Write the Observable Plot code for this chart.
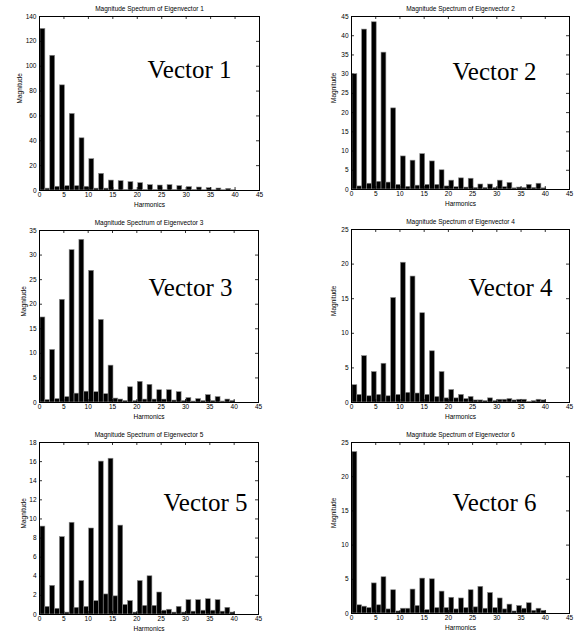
<!DOCTYPE html>
<html><head><meta charset="utf-8">
<script src="https://cdn.jsdelivr.net/npm/d3@7"></script>
<script src="https://cdn.jsdelivr.net/npm/@observablehq/plot@0.6"></script>
<style>
html,body{margin:0;padding:0;background:#fff;}
#wrap{position:relative;width:575px;height:631px;overflow:hidden;background:#fff;}
#wrap svg{position:absolute;overflow:visible;}
</style></head><body><div id="wrap"></div>
<script>
const harmonics = [1,2,3,4,5,6,7,8,9,10,11,12,13,14,15,16,17,18,19,20,21,22,23,24,25,26,27,28,29,30,31,32,33,34,35,36,37,38,39,40];

const vector1 = [130,1.5,108.4,3,84.6,3.5,61.6,3.5,42,3,25.2,1.5,13.4,1.5,8,0.5,7.5,0.5,6.7,0.5,5.9,0.3,4.3,0.3,4,0.3,4.3,0.3,3.5,0.3,2.7,0.3,2.4,0.2,1.9,0.2,1.6,0.2,1.3,0.2];
const vector2 = [30,0.8,41.6,1.5,43.5,2,35.6,1.8,21.1,1.2,8.6,0.7,7.5,1,9.2,1.2,7.3,1.2,5,0.8,2.3,0.6,2.9,0.5,2.8,0.4,1.3,0.4,1.3,0.4,2.3,0.6,1.7,0.3,0.5,0.4,1.2,0.4,1.5,0.3];
const vector3 = [17.3,0.5,10.7,0.7,20.9,1.1,31,1.8,33.1,2.2,26.8,2.1,16.8,1.7,7.5,0.8,0.6,0.3,3.1,0.3,4.2,0.6,3.6,0.6,2.5,0.6,2.5,0.4,2.1,0.3,0.9,0.2,0.7,0.3,1.5,0.3,1.1,0.2,0.6,0.3];
const vector4 = [2.5,1.1,6.7,0.9,4.4,1.1,5.6,0.9,15.1,1.1,20.2,1.4,18.2,1.3,12.9,1.1,7.4,0.8,4.4,0.6,1.8,0.6,1.1,0.5,0.8,0.3,0.3,0.2,0.6,0.2,0.4,0.4,0.5,0.3,0.4,0.4,0.1,0.2,0.4,0.3];
const vector5 = [9.2,0.8,3.0,0.6,8.1,0.2,9.6,0.7,3.5,0.8,9.0,1.4,16.0,2.1,16.3,1.9,9.3,1.0,1.4,0.2,3.5,0.9,4.0,0.9,2.3,0.4,0.5,0.2,0.8,0.2,1.5,0.3,1.5,0.4,1.6,0.4,1.5,0.3,0.7,0.2];
const vector6 = [23.6,1.2,1.0,0.8,4.4,1.2,5.3,0.6,3.4,0.3,0.7,0.7,3.5,1.1,5.1,0.5,5.0,0.8,3.2,0.8,2.3,0.6,2.2,0.8,3.4,0.9,3.9,0.7,3.0,0.8,2.2,0.6,1.3,0.3,1.1,0.7,1.5,0.4,0.7,0.4];

const xTicks = [0,5,10,15,20,25,30,35,40,45];
const yTicks1 = [0,20,40,60,80,100,120,140];
const yTicks2 = [0,5,10,15,20,25,30,35,40,45];
const yTicks3 = [0,5,10,15,20,25,30,35];
const yTicks4 = [0,5,10,15,20,25];
const yTicks5 = [0,2,4,6,8,10,12,14,16,18];
const yTicks6 = [0,5,10,15,20,25];

const titles = ["Magnitude Spectrum of Eigenvector 1","Magnitude Spectrum of Eigenvector 2","Magnitude Spectrum of Eigenvector 3","Magnitude Spectrum of Eigenvector 4","Magnitude Spectrum of Eigenvector 5","Magnitude Spectrum of Eigenvector 6"];
const vectorLabels = ["Vector 1","Vector 2","Vector 3","Vector 4","Vector 5","Vector 6"];
const xLabel = "Harmonics";
const yLabel = "Magnitude";

const series = [vector1, vector2, vector3, vector4, vector5, vector6];
const yTickSets = [yTicks1, yTicks2, yTicks3, yTicks4, yTicks5, yTicks6];

// layout (pixels) per panel
const layout = [
  {left:0,   top:0,   w:287, h:210, ml:39, mr:28, mt:16, mb:20, tx:108, ty:61, yl:-20},
  {left:288, top:0,   w:287, h:210, ml:63, mr:6,  mt:16, mb:21, tx:101, ty:63, yl:-18},
  {left:0,   top:212, w:287, h:208, ml:39, mr:29, mt:18, mb:18, tx:109, ty:65, yl:-16},
  {left:288, top:212, w:287, h:208, ml:63, mr:6,  mt:17, mb:18, tx:117, ty:66, yl:-18},
  {left:0,   top:422, w:287, h:209, ml:39, mr:29, mt:20, mb:17, tx:124, ty:68, yl:-16},
  {left:288, top:422, w:287, h:209, ml:63, mr:6,  mt:20, mb:18, tx:101, ty:68, yl:-18}
];

const wrap = document.getElementById("wrap");
const sans = "'Liberation Sans', Arial, Helvetica, sans-serif";

series.forEach((vals, i) => {
  const L = layout[i];
  const yTicks = yTickSets[i];
  const data = harmonics.map((h, j) => ({h, v: vals[j]}));
  const fw = L.w - L.ml - L.mr;
  const fh = L.h - L.mt - L.mb;
  const chart = Plot.plot({
    width: L.w, height: L.h,
    marginLeft: L.ml, marginRight: L.mr, marginTop: L.mt, marginBottom: L.mb,
    style: {fontFamily: sans, fontSize: "6.5px", color: "black", background: "transparent", overflow: "visible"},
    x: {domain: [0, 45]},
    y: {domain: [0, yTicks[yTicks.length - 1]]},
    marks: [
      Plot.rectY(data, {x1: d => d.h - 0.8, x2: d => d.h + 0.2, y1: 0, y2: "v", fill: "black", stroke: "#8a8a8a", strokeWidth: 0.6}),
      Plot.ruleX(xTicks, {x: d => d, insetTop: fh - 3, stroke: "black", strokeWidth: 0.8}),
      Plot.ruleX(xTicks, {x: d => d, insetBottom: fh - 3, stroke: "black", strokeWidth: 0.8}),
      Plot.ruleY(yTicks, {y: d => d, insetRight: fw - 3, stroke: "black", strokeWidth: 0.8}),
      Plot.ruleY(yTicks, {y: d => d, insetLeft: fw - 3, stroke: "black", strokeWidth: 0.8}),
      Plot.frame({stroke: "black", strokeWidth: 1}),
      Plot.axisX(xTicks, {tickSize: 0, tickPadding: 2, label: null, fontSize: 6.5}),
      Plot.axisY(yTicks, {tickSize: 0, tickPadding: 3, label: null, fontSize: 6.5}),
      Plot.text([titles[i]], {text: d => d, frameAnchor: "top", dy: -8, lineAnchor: "middle", fontSize: 6.5}),
      Plot.text([xLabel], {text: d => d, frameAnchor: "bottom", dy: 14, lineAnchor: "middle", fontSize: 6.5}),
      Plot.text([yLabel], {text: d => d, frameAnchor: "left", dx: L.yl, rotate: -90, lineAnchor: "middle", fontSize: 6.5}),
      Plot.text([vectorLabels[i]], {text: d => d, frameAnchor: "top-left", dx: L.tx, dy: L.ty, textAnchor: "start", lineAnchor: "bottom", fontFamily: "'Liberation Serif', 'Times New Roman', serif", fontSize: 25})
    ]
  });
  chart.style.left = L.left + "px";
  chart.style.top = L.top + "px";
  wrap.appendChild(chart);
});
</script></body></html>
